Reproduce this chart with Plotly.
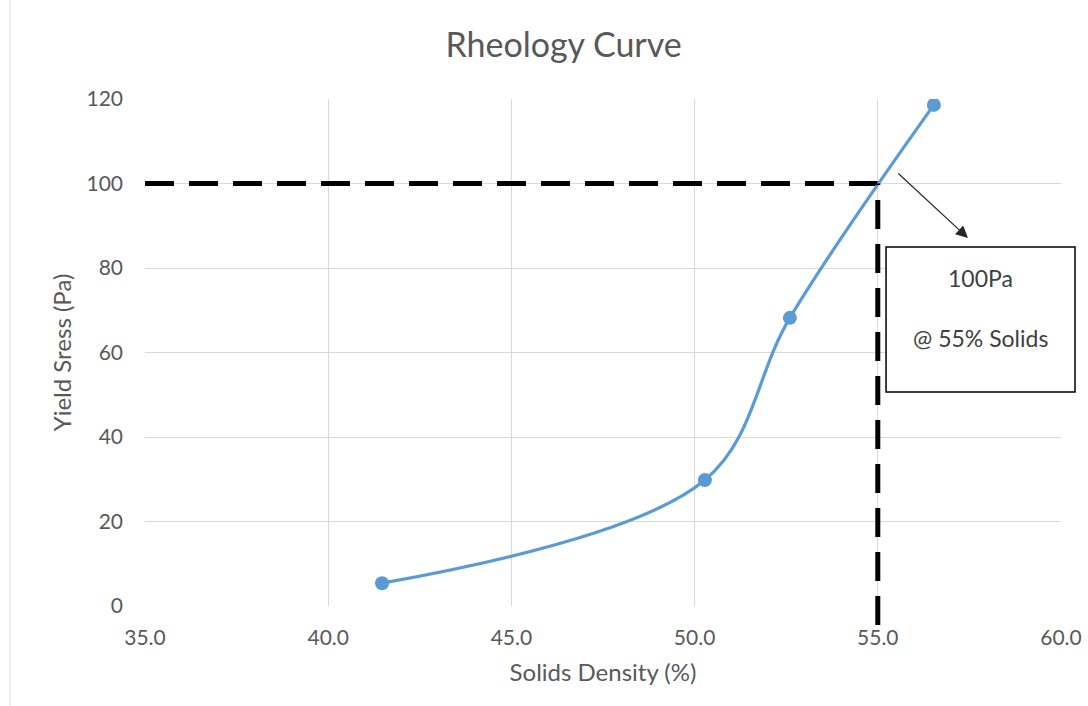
import plotly.graph_objects as go

# Data
solids_density = [41.47, 50.28, 52.6, 56.53]
yield_stress = [5.4, 29.8, 68.2, 118.6]
target_density = 55.0
target_stress = 100.0
x_ticks = [35, 40, 45, 50, 55, 60]
y_ticks = [0, 20, 40, 60, 80, 100, 120]
box_lines = ["100Pa", "@ 55% Solids"]

FONT = "Lato, 'Open Sans', sans-serif"
GRAY = "#595959"
GRID = "#d9d9d9"

fig = go.Figure()

# dashed reference lines
fig.add_trace(go.Scatter(
    x=[x_ticks[0], target_density], y=[target_stress, target_stress],
    mode="lines", line=dict(color="black", width=5, dash="29px,15px"),
    hoverinfo="skip", showlegend=False, cliponaxis=False))

fig.add_shape(type="line", xref="x", yref="paper",
              x0=target_density, x1=target_density, y0=-0.0375,
              y1=target_stress / y_ticks[-1],
              line=dict(color="black", width=5, dash="29px,15px"), layer="above")

fig.add_trace(go.Scatter(
    x=solids_density, y=yield_stress, mode="lines+markers",
    line=dict(color="#5b9bd5", width=3.2, shape="spline", smoothing=1.0),
    marker=dict(color="#5b9bd5", size=14),
    showlegend=False))

# faint chart-area border at left
fig.add_shape(type="line", xref="paper", yref="paper",
              x0=-0.1474, x1=-0.1474, y0=-0.2, y1=1.2,
              line=dict(color="#ececec", width=1.5))

# annotation box
fig.add_shape(type="rect", xref="paper", yref="paper",
              x0=0.809, x1=1.0153, y0=0.422, y1=0.708,
              line=dict(color="black", width=1.5), fillcolor="white", layer="above")
fig.add_annotation(xref="paper", yref="paper", x=0.9116, y=0.647,
                   xanchor="center", yanchor="middle",
                   text=box_lines[0], showarrow=False,
                   font=dict(family=FONT, size=23, color="#404040"))
fig.add_annotation(xref="paper", yref="paper", x=0.9116, y=0.5286,
                   xanchor="center", yanchor="middle",
                   text=box_lines[1], showarrow=False,
                   font=dict(family=FONT, size=23, color="#404040"))

# arrow
fig.add_annotation(x=57.46, y=87.1, ax=55.52, ay=102.7,
                   xref="x", yref="y", axref="x", ayref="y",
                   text="", showarrow=True, arrowhead=2, arrowsize=2.0,
                   arrowwidth=1.2, arrowcolor="#262626")

fig.update_layout(
    width=1088, height=706,
    margin=dict(l=145, r=27, t=99, b=100, autoexpand=False),
    paper_bgcolor="white", plot_bgcolor="white",
    font=dict(family=FONT, color=GRAY),
    title=dict(text="Rheology Curve", x=0.518, xanchor="center",
               y=0.936, yanchor="middle",
               font=dict(family=FONT, size=34, color=GRAY)),
    xaxis=dict(range=[35, 60], tickvals=x_ticks, tickformat=".1f",
               showgrid=True, gridcolor=GRID, gridwidth=1,
               zeroline=False, showline=False, automargin=False,
               tickfont=dict(size=21, color=GRAY),
               title=dict(text="Solids Density (%)", font=dict(size=24, color=GRAY),
                          standoff=16),
               ticks="", ticklabelstandoff=17),
    yaxis=dict(range=[0, 120], tickvals=y_ticks,
               showgrid=True, gridcolor=GRID, gridwidth=1,
               zeroline=False, showline=False, automargin=False,
               tickfont=dict(size=21, color=GRAY),
               title=dict(text="Yield Sress (Pa)", font=dict(size=24, color=GRAY),
                          standoff=8),
               ticks="", ticklabelstandoff=21),
)

fig.write_html("out.html")
